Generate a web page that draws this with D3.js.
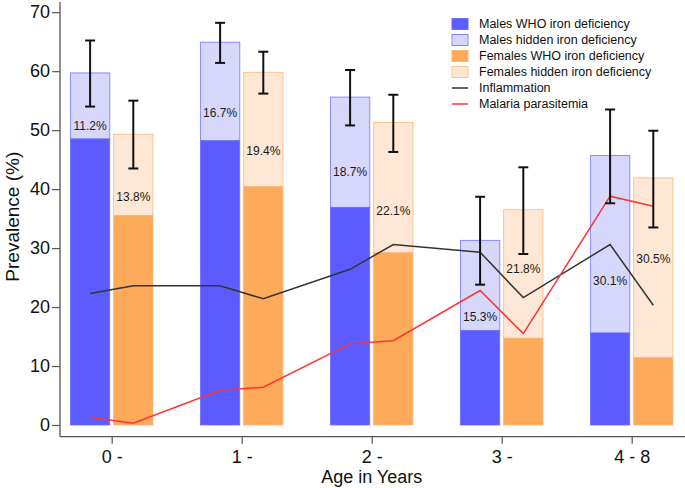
<!DOCTYPE html>
<html>
<head>
<meta charset="utf-8">
<script src="https://cdn.jsdelivr.net/npm/d3@7"></script>
<style>
  html, body { margin: 0; padding: 0; background: #fff; }
  svg { display: block; font-family: "Liberation Sans", Arial, Helvetica, sans-serif; }
</style>
</head>
<body>
<svg id="chart" width="685" height="488"></svg>
<script>
// ---- data ----
const categories = ["0 -", "1 -", "2 -", "3 -", "4 - 8"];
const maleWHO = [48.5, 48.2, 36.9, 16.0, 15.6];
const maleHidden = [11.2, 16.7, 18.7, 15.3, 30.1];
const femaleWHO = [35.5, 40.4, 29.2, 14.7, 11.4];
const femaleHidden = [13.8, 19.4, 22.1, 21.8, 30.5];
const maleErrLow = [54.0, 61.4, 50.8, 23.8, 37.6];
const maleErrHigh = [65.2, 68.2, 60.2, 38.7, 53.5];
const femaleErrLow = [43.5, 56.2, 46.3, 29.0, 33.5];
const femaleErrHigh = [55.0, 63.3, 56.0, 43.7, 49.9];
const inflammationMale = [22.3, 23.6, 26.4, 29.3, 30.6];
const inflammationFemale = [23.6, 21.4, 30.6, 21.6, 20.3];
const malariaMale = [1.3, 5.9, 13.8, 22.8, 38.8];
const malariaFemale = [0.3, 6.4, 14.3, 15.5, 37.1];
const maleLabelLevel = [50.7, 52.9, 42.9, 18.3, 24.5];
const femaleLabelLevel = [38.7, 46.5, 36.3, 26.5, 28.1];
const yTicks = [0, 10, 20, 30, 40, 50, 60, 70];
const legendItems = ["Males WHO iron deficiency", "Males hidden iron deficiency",
  "Females WHO iron deficiency", "Females hidden iron deficiency", "Inflammation", "Malaria parasitemia"];

// ---- styles ----
const C = {
  mWHO: "#5b5bff", mWHOStroke: "#6c6cff",
  mHid: "#d7d7fb", mHidStroke: "#8a8aff",
  fWHO: "#fdaa5b", fWHOStroke: "#fdb46e",
  fHid: "#fee8d5", fHidStroke: "#fdc38e",
  infl: "#333333", mal: "#ff3333", axis: "#555555"
};

const svg = d3.select("#chart");
const x = d3.scalePoint().domain(categories).range([111.7, 631.7]);
const y = d3.scaleLinear().domain([0, 70]).range([425, 12.2]);
const barW = 39.3, off = 21.6;

const rows = categories.map((c, i) => ({
  c, i,
  mx: x(c) - off, fx: x(c) + off
}));

// bars
const gB = svg.append("g");
rows.forEach(r => {
  const i = r.i;
  // male hidden (total)
  gB.append("rect").attr("x", r.mx - barW/2).attr("width", barW)
    .attr("y", y(maleWHO[i] + maleHidden[i])).attr("height", y(maleWHO[i]) - y(maleWHO[i] + maleHidden[i]))
    .attr("fill", C.mHid).attr("stroke", C.mHidStroke).attr("stroke-width", 1);
  gB.append("rect").attr("x", r.mx - barW/2).attr("width", barW)
    .attr("y", y(maleWHO[i])).attr("height", y(0) - y(maleWHO[i]))
    .attr("fill", C.mWHO).attr("stroke", C.mWHOStroke).attr("stroke-width", 0.8);
  gB.append("rect").attr("x", r.fx - barW/2).attr("width", barW)
    .attr("y", y(femaleWHO[i] + femaleHidden[i])).attr("height", y(femaleWHO[i]) - y(femaleWHO[i] + femaleHidden[i]))
    .attr("fill", C.fHid).attr("stroke", C.fHidStroke).attr("stroke-width", 1);
  gB.append("rect").attr("x", r.fx - barW/2).attr("width", barW)
    .attr("y", y(femaleWHO[i])).attr("height", y(0) - y(femaleWHO[i]))
    .attr("fill", C.fWHO).attr("stroke", C.fWHOStroke).attr("stroke-width", 0.8);
});

// percentage labels
rows.forEach(r => {
  const i = r.i;
  gB.append("text").attr("x", r.mx).attr("y", y(maleLabelLevel[i])).attr("dy", "0.35em")
    .attr("text-anchor", "middle").attr("font-size", 12).attr("fill", "#1a1a1a")
    .text(maleHidden[i].toFixed(1) + "%");
  gB.append("text").attr("x", r.fx).attr("y", y(femaleLabelLevel[i])).attr("dy", "0.35em")
    .attr("text-anchor", "middle").attr("font-size", 12).attr("fill", "#1a1a1a")
    .text(femaleHidden[i].toFixed(1) + "%");
});

// lines
const line = d3.line().x(d => d[0]).y(d => y(d[1]));
const inflPts = [], malPts = [];
rows.forEach(r => {
  inflPts.push([r.mx, inflammationMale[r.i]], [r.fx, inflammationFemale[r.i]]);
  malPts.push([r.mx, malariaMale[r.i]], [r.fx, malariaFemale[r.i]]);
});
svg.append("path").attr("d", line(inflPts)).attr("fill", "none").attr("stroke", C.infl).attr("stroke-width", 1.5);
svg.append("path").attr("d", line(malPts)).attr("fill", "none").attr("stroke", C.mal).attr("stroke-width", 1.5);

// error bars
const gE = svg.append("g").attr("stroke", "#111").attr("stroke-width", 2);
function errBar(cx, lo, hi) {
  gE.append("line").attr("x1", cx).attr("x2", cx).attr("y1", y(lo)).attr("y2", y(hi));
  gE.append("line").attr("x1", cx - 5).attr("x2", cx + 5).attr("y1", y(lo)).attr("y2", y(lo));
  gE.append("line").attr("x1", cx - 5).attr("x2", cx + 5).attr("y1", y(hi)).attr("y2", y(hi));
}
rows.forEach(r => {
  errBar(r.mx, maleErrLow[r.i], maleErrHigh[r.i]);
  errBar(r.fx, femaleErrLow[r.i], femaleErrHigh[r.i]);
});

// axes
const axisY = 436.7, axisX = 60;
const gy = svg.append("g").attr("transform", `translate(${axisX},0)`)
  .call(d3.axisLeft(y).tickValues(yTicks).tickSize(8).tickPadding(2).tickFormat(d3.format("d")));
gy.select(".domain").remove();
gy.selectAll("line").attr("stroke", C.axis).attr("stroke-width", 1.2);
gy.selectAll("text").attr("font-size", 18).attr("font-family", "Liberation Sans, Arial, sans-serif").attr("fill", "#111");

const gx = svg.append("g").attr("transform", `translate(0,${axisY})`)
  .call(d3.axisBottom(x).tickSize(7).tickPadding(7));
gx.select(".domain").remove();
gx.selectAll("line").attr("stroke", C.axis).attr("stroke-width", 1.2);
gx.selectAll("text").attr("font-size", 18).attr("font-family", "Liberation Sans, Arial, sans-serif").attr("fill", "#111");

svg.append("line").attr("x1", axisX).attr("x2", axisX).attr("y1", 2).attr("y2", axisY)
  .attr("stroke", C.axis).attr("stroke-width", 1.3);
svg.append("line").attr("x1", axisX).attr("x2", 685).attr("y1", axisY).attr("y2", axisY)
  .attr("stroke", C.axis).attr("stroke-width", 1.3);

// axis titles
svg.append("text").attr("x", x(categories[2])).attr("y", 482.5).attr("text-anchor", "middle")
  .attr("font-size", 18).attr("fill", "#111").text("Age in Years");
svg.append("text").attr("transform", "translate(18.5,216.7) rotate(-90)").attr("text-anchor", "middle")
  .attr("font-size", 19).attr("fill", "#111").text("Prevalence (%)");

// legend
const gL = svg.append("g");
const lgStyles = [
  {type: "rect", fill: C.mWHO, stroke: C.mWHOStroke},
  {type: "rect", fill: C.mHid, stroke: C.mHidStroke},
  {type: "rect", fill: C.fWHO, stroke: C.fWHOStroke},
  {type: "rect", fill: C.fHid, stroke: C.fHidStroke},
  {type: "line", stroke: C.infl},
  {type: "line", stroke: C.mal}
];
legendItems.forEach((t, k) => {
  const cy = 24 + k * 16;
  const s = lgStyles[k];
  if (s.type === "rect") {
    gL.append("rect").attr("x", 452).attr("y", cy - 5.5).attr("width", 16).attr("height", 11)
      .attr("fill", s.fill).attr("stroke", s.stroke).attr("stroke-width", 1);
  } else {
    gL.append("line").attr("x1", 452).attr("x2", 468).attr("y1", cy).attr("y2", cy)
      .attr("stroke", s.stroke).attr("stroke-width", 1.5);
  }
  gL.append("text").attr("x", 479).attr("y", cy).attr("dy", "0.35em")
    .attr("font-size", 12.5).attr("fill", "#111").text(t);
});
</script>
</body>
</html>
